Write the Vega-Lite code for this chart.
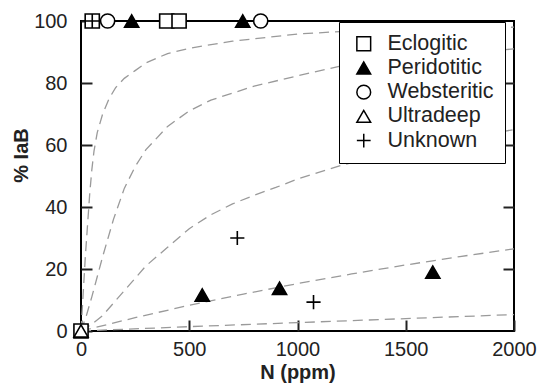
{
  "$schema": "https://vega.github.io/schema/vega-lite/v6.json",
  "width": 433,
  "height": 310,
  "autosize": {"type": "none"},
  "padding": {"left": 81, "top": 21, "right": 27, "bottom": 52},
  "background": "white",
  "config": {
    "font": "Liberation Sans",
    "view": {"stroke": "black", "strokeWidth": 2},
    "axis": {"labelFont": "Liberation Sans", "titleFont": "Liberation Sans", "labelColor": "#222", "titleColor": "#222", "tickColor": "#222", "grid": false, "domain": false}
  },
  "datasets": {
    "curves": [
      {"curve": "A", "N": 0, "P": 0}, {"curve": "A", "N": 10, "P": 12}, {"curve": "A", "N": 20, "P": 24}, {"curve": "A", "N": 30, "P": 34}, {"curve": "A", "N": 40, "P": 44}, {"curve": "A", "N": 50, "P": 52}, {"curve": "A", "N": 60, "P": 58}, {"curve": "A", "N": 75, "P": 64}, {"curve": "A", "N": 100, "P": 70}, {"curve": "A", "N": 130, "P": 75}, {"curve": "A", "N": 160, "P": 78.5}, {"curve": "A", "N": 200, "P": 81.5}, {"curve": "A", "N": 250, "P": 84}, {"curve": "A", "N": 300, "P": 86.5}, {"curve": "A", "N": 400, "P": 89.5}, {"curve": "A", "N": 500, "P": 91.2}, {"curve": "A", "N": 700, "P": 93.5}, {"curve": "A", "N": 1000, "P": 95.8}, {"curve": "A", "N": 1300, "P": 97}, {"curve": "A", "N": 1600, "P": 97.6}, {"curve": "A", "N": 2000, "P": 98},
      {"curve": "B", "N": 0, "P": 0}, {"curve": "B", "N": 25, "P": 5}, {"curve": "B", "N": 50, "P": 11}, {"curve": "B", "N": 75, "P": 17.5}, {"curve": "B", "N": 100, "P": 24}, {"curve": "B", "N": 150, "P": 36}, {"curve": "B", "N": 200, "P": 46}, {"curve": "B", "N": 250, "P": 53}, {"curve": "B", "N": 300, "P": 58.5}, {"curve": "B", "N": 400, "P": 66}, {"curve": "B", "N": 500, "P": 71}, {"curve": "B", "N": 600, "P": 74.5}, {"curve": "B", "N": 800, "P": 79}, {"curve": "B", "N": 1000, "P": 82.3}, {"curve": "B", "N": 1200, "P": 85.5}, {"curve": "B", "N": 1500, "P": 88}, {"curve": "B", "N": 2000, "P": 91},
      {"curve": "C", "N": 0, "P": 0}, {"curve": "C", "N": 50, "P": 2.2}, {"curve": "C", "N": 100, "P": 5}, {"curve": "C", "N": 200, "P": 13}, {"curve": "C", "N": 300, "P": 21}, {"curve": "C", "N": 400, "P": 27}, {"curve": "C", "N": 500, "P": 33}, {"curve": "C", "N": 600, "P": 37.5}, {"curve": "C", "N": 700, "P": 41}, {"curve": "C", "N": 800, "P": 43.8}, {"curve": "C", "N": 900, "P": 46.3}, {"curve": "C", "N": 1000, "P": 49}, {"curve": "C", "N": 1200, "P": 53.4}, {"curve": "C", "N": 1400, "P": 57}, {"curve": "C", "N": 1700, "P": 61}, {"curve": "C", "N": 2000, "P": 65},
      {"curve": "D", "N": 0, "P": 0}, {"curve": "D", "N": 250, "P": 4.3}, {"curve": "D", "N": 500, "P": 8.3}, {"curve": "D", "N": 750, "P": 11.9}, {"curve": "D", "N": 1000, "P": 15.3}, {"curve": "D", "N": 1250, "P": 18.4}, {"curve": "D", "N": 1500, "P": 21.3}, {"curve": "D", "N": 1750, "P": 24}, {"curve": "D", "N": 2000, "P": 26.5},
      {"curve": "E", "N": 0, "P": 0}, {"curve": "E", "N": 500, "P": 1.4}, {"curve": "E", "N": 1000, "P": 2.7}, {"curve": "E", "N": 1500, "P": 4}, {"curve": "E", "N": 2000, "P": 5.3}
    ],
    "points": [
      {"type": "Eclogitic", "N": 0, "P": 0},
      {"type": "Eclogitic", "N": 52, "P": 100},
      {"type": "Eclogitic", "N": 396, "P": 100},
      {"type": "Eclogitic", "N": 453, "P": 100},
      {"type": "Peridotitic", "N": 234, "P": 100},
      {"type": "Peridotitic", "N": 747, "P": 100},
      {"type": "Peridotitic", "N": 560, "P": 11.6},
      {"type": "Peridotitic", "N": 917, "P": 13.8},
      {"type": "Peridotitic", "N": 1625, "P": 19},
      {"type": "Websteritic", "N": 123, "P": 100},
      {"type": "Websteritic", "N": 830, "P": 100},
      {"type": "Ultradeep", "N": 0, "P": 0},
      {"type": "Unknown", "N": 52, "P": 100},
      {"type": "Unknown", "N": 722, "P": 30},
      {"type": "Unknown", "N": 1074, "P": 9.3}
    ]
  },
  "layer": [
    {
      "data": {"name": "curves"},
      "mark": {"type": "line", "color": "#9a9a9a", "strokeWidth": 1.3, "strokeDash": [10, 6], "clip": true},
      "encoding": {
        "x": {"field": "N", "type": "quantitative", "scale": {"domain": [0, 2000], "nice": false},
          "axis": {"values": [0, 500, 1000, 1500, 2000], "format": "d", "tickSize": -11, "tickWidth": 2, "labelPadding": 19, "labelFontSize": 20, "labelFlush": false, "title": "N (ppm)", "titleFontSize": 20, "titleFontWeight": "bold", "titleY": 31, "titleBaseline": "top"}},
        "y": {"field": "P", "type": "quantitative", "scale": {"domain": [0, 100], "nice": false},
          "axis": {"orient": "left", "values": [0, 20, 40, 60, 80, 100], "format": "d", "tickSize": -11, "tickWidth": 2, "labelPadding": 25, "labelFontSize": 20, "labelFlush": false, "title": "% IaB", "titleFontSize": 20, "titleFontWeight": "bold", "titleX": -70, "titleY": 134, "titleBaseline": "top", "titleAlign": "center", "titleAngle": 270}},
        "detail": {"field": "curve"}
      }
    },
    {
      "data": {"name": "points"},
      "mark": {"type": "point", "filled": false, "stroke": "black", "strokeWidth": 1.6, "size": 200, "opacity": 1, "clip": false},
      "encoding": {
        "x": {"field": "N", "type": "quantitative"},
        "y": {"field": "P", "type": "quantitative",
          "axis": {"orient": "right", "values": [20, 40, 60, 80], "tickSize": -11, "tickWidth": 2, "labels": false, "title": null}},
        "shape": {"field": "type", "type": "nominal",
          "scale": {"domain": ["Eclogitic", "Peridotitic", "Websteritic", "Ultradeep", "Unknown"], "range": ["square", "triangle-up", "circle", "triangle-up", "M-1,0L1,0M0,-1L0,1"]},
          "legend": {"title": null, "orient": "none", "legendX": 258, "legendY": 1, "fillColor": "white", "strokeColor": "black", "padding": 11, "rowPadding": 1.2, "symbolOffset": 3, "labelOffset": 13, "labelFontSize": 21.5, "labelFont": "Liberation Sans", "labelColor": "#222", "symbolSize": 190,
            "encode": {"symbols": {"update": {"stroke": {"value": "black"}, "strokeWidth": {"value": 1.6}, "opacity": {"value": 1}}}, "entries": {"update": {"width": {"value": 154}, "fill": {"value": "transparent"}}}}}},
        "fill": {"field": "type", "type": "nominal",
          "scale": {"domain": ["Eclogitic", "Peridotitic", "Websteritic", "Ultradeep", "Unknown"], "range": ["white", "black", "white", "white", "transparent"]},
          "legend": {"title": null, "orient": "none", "legendX": 258, "legendY": 1, "fillColor": "white", "strokeColor": "black", "padding": 11, "rowPadding": 1.2, "symbolOffset": 3, "labelOffset": 13, "labelFontSize": 21.5, "labelFont": "Liberation Sans", "labelColor": "#222", "symbolSize": 190,
            "encode": {"symbols": {"update": {"stroke": {"value": "black"}, "strokeWidth": {"value": 1.6}, "opacity": {"value": 1}}}, "entries": {"update": {"width": {"value": 154}, "fill": {"value": "transparent"}}}}}}
      }
    }
  ],
  "resolve": {"axis": {"y": "independent"}}
}
